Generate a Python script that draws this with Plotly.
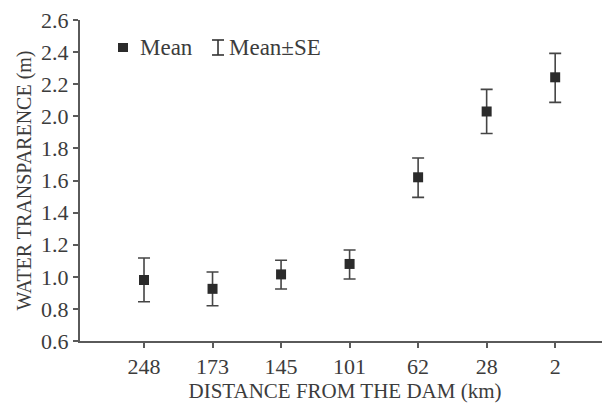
import plotly.graph_objects as go

categories = ["248", "173", "145", "101", "62", "28", "2"]
means = [0.98, 0.925, 1.015, 1.08, 1.62, 2.03, 2.243]
upper = [1.117, 1.03, 1.103, 1.167, 1.74, 2.168, 2.392]
lower = [0.845, 0.82, 0.924, 0.986, 1.495, 1.893, 2.087]
y_ticks = ["0.6", "0.8", "1.0", "1.2", "1.4", "1.6", "1.8", "2.0", "2.2", "2.4", "2.6"]

err_plus = [u - m for u, m in zip(upper, means)]
err_minus = [m - l for m, l in zip(means, lower)]

txt = "#3c3c3c"
line_c = "#5a5a5a"
font = "Liberation Serif"

fig = go.Figure()
fig.add_trace(go.Scatter(
    x=list(range(len(categories))), y=means, mode="markers",
    marker=dict(symbol="square", size=10, color="#2b2b2b"),
    error_y=dict(type="data", symmetric=False, array=err_plus, arrayminus=err_minus,
                 color="#454545", thickness=1.6, width=6),
    showlegend=False,
))

# legend (drawn manually)
glyph = dict(color="#333333", width=1.6)
fig.add_shape(type="rect", xref="paper", yref="paper", x0=0.0717, x1=0.0906, y0=0.9003, y1=0.9283,
              fillcolor="#2b2b2b", line=dict(width=0))
fig.add_shape(type="line", xref="paper", yref="paper", x0=0.2604, x1=0.2604, y0=0.891, y1=0.9377, line=glyph)
fig.add_shape(type="line", xref="paper", yref="paper", x0=0.2491, x1=0.2717, y0=0.891, y1=0.891, line=glyph)
fig.add_shape(type="line", xref="paper", yref="paper", x0=0.2491, x1=0.2717, y0=0.9377, y1=0.9377, line=glyph)
fig.add_annotation(x=0.1094, y=0.915, xref="paper", yref="paper", xanchor="left", yanchor="middle",
                   text="Mean", showarrow=False, font=dict(family=font, size=23, color=txt))
fig.add_annotation(x=0.2774, y=0.915, xref="paper", yref="paper", xanchor="left", yanchor="middle",
                   text="Mean±SE", showarrow=False, font=dict(family=font, size=23, color=txt))

fig.update_layout(
    width=602, height=398,
    margin=dict(l=72, r=0, t=12, b=65),
    paper_bgcolor="white", plot_bgcolor="white",
    font=dict(family=font, color=txt, size=22),
    xaxis=dict(
        range=[-0.934, 6.8], tickmode="array", tickvals=list(range(len(categories))),
        ticktext=categories, showgrid=False, zeroline=False, automargin=False,
        showline=True, linecolor=line_c, linewidth=2, ticklabeloverflow="allow",
        ticks="outside", ticklen=5, tickcolor=line_c, tickwidth=1.5,
        tickfont=dict(size=22, color=txt),
        title=dict(text="DISTANCE FROM THE DAM (km)", font=dict(size=21, color=txt), standoff=4),
    ),
    yaxis=dict(
        range=[0.6, 2.6], tickmode="array",
        tickvals=[float(t) for t in y_ticks], ticktext=y_ticks,
        showgrid=False, zeroline=False, automargin=False,
        showline=True, linecolor=line_c, linewidth=2, ticklabeloverflow="allow",
        ticks="outside", ticklen=5, tickcolor=line_c, tickwidth=1.5,
        tickfont=dict(size=22, color=txt),
        title=dict(text="WATER TRANSPARENCE (m)", font=dict(size=20, color=txt), standoff=4),
    ),
)

fig.write_html("out.html")
